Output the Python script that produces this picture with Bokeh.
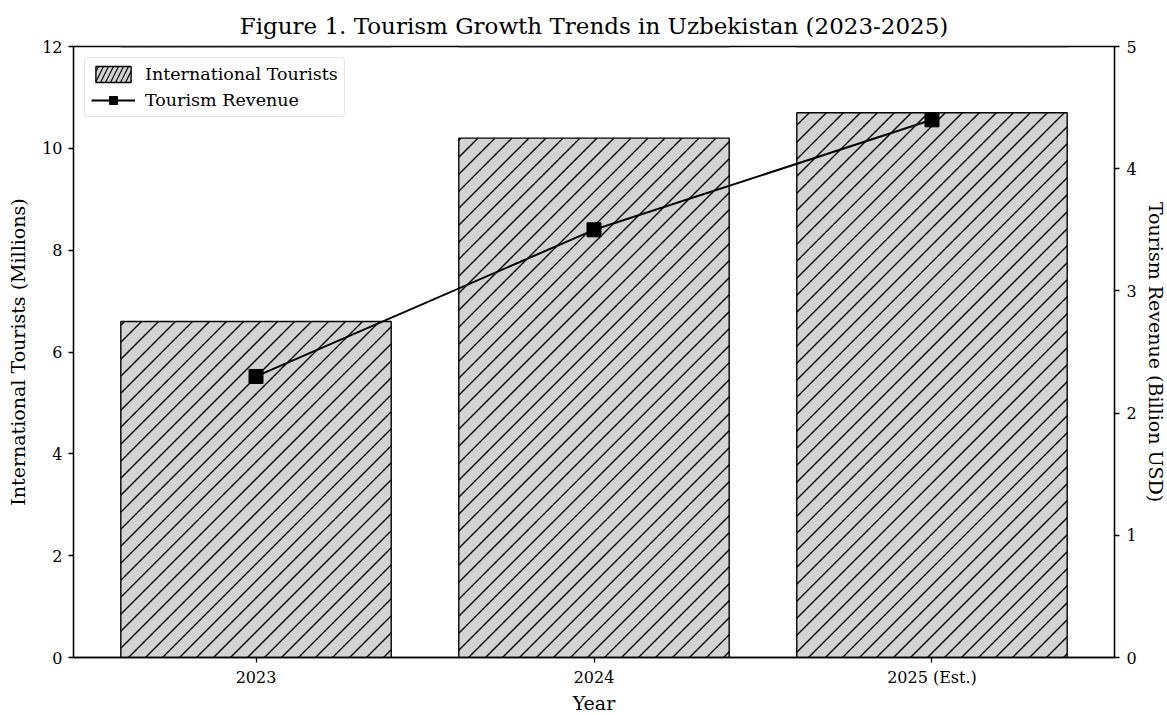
import numpy as np
from bokeh.plotting import figure
from bokeh.models import (Range1d, LinearAxis, FixedTicker, Legend, LegendItem,
                          ColumnDataSource)
from bokeh.embed import file_html
from bokeh.resources import INLINE

years = ["2023", "2024", "2025 (Est.)"]
tourists = [6.6, 10.2, 10.7]
revenue = [2.3, 3.5, 4.4]

FONT = "DejaVu Serif"
xs = list(range(len(years)))

FRAME_W, FRAME_H = 1041, 611
X0, X1 = -0.54, 2.54
Y0, Y1 = 0, 12
BAR_W = 0.8
HATCH_STEP = 17   # px between 45-degree hatch lines (horizontal)
HATCH_PHASE = 4   # px

# 45-degree hatch segments computed from the bar data through the frame scales
sx = FRAME_W / (X1 - X0)
sy = FRAME_H / (Y1 - Y0)
hx0, hy0, hx1, hy1 = [], [], [], []
for xc, top in zip(xs, tourists):
    L = (xc - BAR_W / 2 - X0) * sx
    R = (xc + BAR_W / 2 - X0) * sx
    B = (0 - Y0) * sy
    T = (top - Y0) * sy
    kmin = int(np.floor((L - T) / HATCH_STEP)) - 1
    kmax = int(np.ceil((R - B) / HATCH_STEP)) + 1
    for k in range(kmin, kmax + 1):
        c = k * HATCH_STEP + HATCH_PHASE
        ya = max(B, L - c)
        yb = min(T, R - c)
        if yb - ya > 0.5:
            hx0.append((ya + c) / sx + X0)
            hy0.append(ya / sy + Y0)
            hx1.append((yb + c) / sx + X0)
            hy1.append(yb / sy + Y0)

p = figure(frame_width=FRAME_W, frame_height=FRAME_H, output_backend="svg", toolbar_location=None,
           x_range=Range1d(X0, X1), y_range=Range1d(Y0, Y1),
           min_border_left=73, min_border_right=53, min_border_top=46, min_border_bottom=58)
p.extra_y_ranges = {"rev": Range1d(0, 5), "legend_only": Range1d(-1000, -999)}

p.title.text = "Figure 1. Tourism Growth Trends in Uzbekistan (2023-2025)"
p.title.align = "center"
p.title.text_font = FONT
p.title.text_font_size = "23px"
p.title.text_font_style = "normal"
p.title.text_color = "black"
p.title.standoff = 16

p.xgrid.visible = False
p.ygrid.visible = False
p.outline_line_color = "black"
p.outline_line_width = 1.3
p.outline_line_alpha = 1

bar_src = ColumnDataSource(dict(x=xs, top=tourists))

# bar fill, hatch, outline
p.vbar(x="x", top="top", width=BAR_W, source=bar_src, fill_color="#d3d3d3", line_color=None)
p.segment(hx0, hy0, hx1, hy1, line_color="black", line_width=1.35)
p.vbar(x="x", top="top", width=BAR_W, source=bar_src, fill_color=None,
       line_color="black", line_width=1.4)

# legend swatch for the bars: same bars on a range that puts them outside the frame
legend_bar = p.vbar(x="x", top="top", width=BAR_W, source=bar_src, y_range_name="legend_only",
                    fill_color="#d3d3d3", line_color="black", line_width=1.4,
                    hatch_pattern="/", hatch_color="black", hatch_scale=10, hatch_weight=1.2)

line = p.line(xs, revenue, line_color="black", line_width=2, y_range_name="rev")
pts = p.scatter(xs, revenue, marker="square", size=14, fill_color="black",
                line_color="black", y_range_name="rev")

right = LinearAxis(y_range_name="rev", axis_label="Tourism Revenue (Billion USD)")
p.add_layout(right, "right")

p.xaxis.ticker = FixedTicker(ticks=xs)
p.xaxis.major_label_overrides = {i: y for i, y in enumerate(years)}
p.xaxis.axis_label = "Year"
p.yaxis[0].ticker = FixedTicker(ticks=[0, 2, 4, 6, 8, 10, 12])
p.yaxis[0].axis_label = "International Tourists (Millions)"
right.ticker = FixedTicker(ticks=[0, 1, 2, 3, 4, 5])

for ax in p.xaxis + p.yaxis:
    ax.axis_label_text_font = FONT
    ax.axis_label_text_font_size = "19px"
    ax.axis_label_text_font_style = "normal"
    ax.axis_label_text_color = "black"
    ax.major_label_text_font = FONT
    ax.major_label_text_font_size = "16px"
    ax.major_label_text_color = "black"
    ax.minor_tick_line_color = None
    ax.major_tick_out = 5
    ax.major_tick_in = 0
    ax.axis_line_color = "black"
    ax.axis_line_width = 1.3
    ax.major_tick_line_width = 1.3
    ax.major_tick_line_color = "black"
    ax.axis_label_standoff = 5
    ax.major_label_standoff = 6

p.xaxis.axis_label_standoff = 2
p.xaxis.major_label_standoff = 5
p.yaxis[0].axis_label_standoff = 10
right.axis_label_standoff = 5
right.major_label_standoff = 7

legend = Legend(items=[
    LegendItem(label="International Tourists", renderers=[legend_bar]),
    LegendItem(label="Tourism Revenue", renderers=[line, pts]),
], location="top_left")
legend.label_text_font = FONT
legend.label_text_font_size = "17.5px"
legend.label_text_color = "black"
legend.glyph_width = 44
legend.glyph_height = 20
legend.spacing = 6
legend.padding = 6
legend.margin = 11
legend.label_standoff = 10
legend.border_line_color = "#cccccc"
legend.border_line_width = 1.5
legend.border_radius = 4
legend.background_fill_alpha = 0.9
p.add_layout(legend)

open("out.html", "w").write(file_html(p, INLINE))
